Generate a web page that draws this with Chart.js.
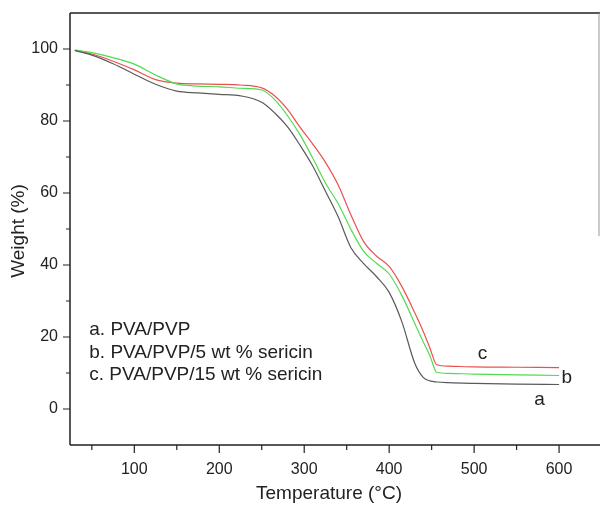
<!DOCTYPE html>
<html>
<head>
<meta charset="utf-8">
<script src="https://cdn.jsdelivr.net/npm/chart.js@4.4.0/dist/chart.umd.min.js"></script>
<style>
  html, body { margin: 0; padding: 0; background: #fff; }
  #wrap { width: 600px; height: 505px; }
</style>
</head>
<body>
<div id="wrap"><canvas id="tgaChart"></canvas></div>
<script>
// temperature grid (°C) shared by all three curves
const temps = [30, 50, 75, 100, 125, 150, 175, 200, 225, 250, 265, 280, 295, 310, 325, 340, 355, 370, 385, 400, 415, 430, 440, 448, 456, 470, 500, 550, 600];

// weight (%)
const weightA = [99.6, 98.3, 95.9, 93.0, 90.2, 88.3, 87.8, 87.4, 87.0, 85.2, 82.3, 78.5, 73.3, 67.5, 60.5, 53.4, 44.8, 40.4, 36.8, 32.4, 24.2, 12.8, 8.8, 7.8, 7.5, 7.3, 7.1, 6.9, 6.8];
const weightB = [99.7, 99.0, 97.6, 95.8, 92.8, 90.3, 89.7, 89.5, 89.1, 88.6, 86.0, 81.6, 76.2, 69.7, 62.8, 57.0, 49.9, 43.8, 40.5, 37.5, 31.5, 23.8, 18.7, 14.8, 10.2, 9.9, 9.7, 9.5, 9.3];
const weightC = [99.6, 98.6, 96.6, 94.2, 91.5, 90.5, 90.3, 90.2, 90.0, 89.2, 87.0, 83.3, 78.3, 73.6, 68.5, 62.2, 53.9, 46.5, 42.5, 39.6, 34.0, 26.8, 21.6, 16.9, 12.3, 11.9, 11.7, 11.6, 11.5];

const seriesNames = ['a. PVA/PVP', 'b. PVA/PVP/5 wt % sericin', 'c. PVA/PVP/15 wt % sericin'];
const curveTags = ['a', 'b', 'c'];

const xMajor = [100, 200, 300, 400, 500, 600];
const xMinor = [50, 150, 250, 350, 450, 550];
const yMajor = [0, 20, 40, 60, 80, 100];
const yMinor = [10, 30, 50, 70, 90];

const toPoints = (ys) => temps.map((t, i) => ({ x: t, y: ys[i] }));

const FONT = '"Liberation Sans", Arial, sans-serif';

// axes frame, tick marks, curve tags and the text legend
const decorations = {
    id: 'decorations',
    afterDraw(chart) {
        const c = chart.ctx;
        const a = chart.chartArea;
        const xs = chart.scales.x;
        const ys = chart.scales.y;
        c.save();
        c.strokeStyle = '#222';
        c.lineWidth = 1.5;
        c.beginPath();
        c.moveTo(a.left, a.top); c.lineTo(a.left, a.bottom);
        c.moveTo(a.left, a.bottom); c.lineTo(chart.width, a.bottom);
        c.moveTo(a.left, a.top); c.lineTo(chart.width, a.top);
        c.stroke();
        c.strokeStyle = '#999';
        c.lineWidth = 1;
        c.beginPath();
        c.moveTo(a.right, a.top); c.lineTo(a.right, ys.getPixelForValue(48));
        c.stroke();

        c.strokeStyle = '#222';
        c.lineWidth = 1.2;
        c.beginPath();
        xMajor.forEach(v => { const p = xs.getPixelForValue(v); c.moveTo(p, a.bottom); c.lineTo(p, a.bottom + 8); });
        xMinor.forEach(v => { const p = xs.getPixelForValue(v); c.moveTo(p, a.bottom); c.lineTo(p, a.bottom + 5); });
        yMajor.forEach(v => { const p = ys.getPixelForValue(v); c.moveTo(a.left, p); c.lineTo(a.left - 7, p); });
        yMinor.forEach(v => { const p = ys.getPixelForValue(v); c.moveTo(a.left, p); c.lineTo(a.left - 4, p); });
        c.stroke();

        c.fillStyle = '#222';
        c.font = '19px ' + FONT;
        c.textBaseline = 'middle';
        c.textAlign = 'left';
        const legendRows = [22, 15.6, 9.5];
        seriesNames.forEach((n, i) => {
            c.fillText(n, xs.getPixelForValue(47), ys.getPixelForValue(legendRows[i]));
        });
        const tagPos = [[577, 2.6], [609, 8.7], [510, 15.4]];
        curveTags.forEach((t, i) => {
            c.textAlign = 'center';
            c.fillText(t, xs.getPixelForValue(tagPos[i][0]), ys.getPixelForValue(tagPos[i][1]));
        });

        // axis titles
        c.textAlign = 'center';
        c.fillText('Temperature (\u00B0C)', 329, 494);
        c.translate(19, 231);
        c.rotate(-Math.PI / 2);
        c.fillText('Weight (%)', 0, 0);
        c.restore();
    }
};

const ctx = document.getElementById('tgaChart').getContext('2d');
const tgaChart = new Chart(ctx, {
    type: 'line',
    data: {
        datasets: [
            { label: seriesNames[0], data: toPoints(weightA), borderColor: 'rgba(90, 90, 90, 1)' },
            { label: seriesNames[1], data: toPoints(weightB), borderColor: 'rgba(80, 220, 80, 1)' },
            { label: seriesNames[2], data: toPoints(weightC), borderColor: 'rgba(235, 80, 80, 1)' }
        ]
    },
    options: {
        responsive: true,
        maintainAspectRatio: false,
        animation: false,
        layout: {
            padding: { top: 13, right: 1, left: 0, bottom: 0 }
        },
        datasets: {
            line: {
                borderWidth: 1.2,
                pointRadius: 0,
                fill: false,
                cubicInterpolationMode: 'monotone'
            }
        },
        plugins: {
            legend: { display: false },
            tooltip: { enabled: false },
            title: { display: false }
        },
        scales: {
            x: {
                type: 'linear',
                min: 24.3,
                max: 647,
                afterFit: (s) => { s.height = 60; s.paddingLeft = 0; s.paddingRight = 0; },
                afterBuildTicks: (s) => { s.ticks = xMajor.map(v => ({ value: v })); },
                grid: { display: false },
                border: { display: false },
                ticks: {
                    padding: 7,
                    color: '#222',
                    font: { size: 16, family: FONT }
                }
            },
            y: {
                type: 'linear',
                min: -10,
                max: 110,
                afterFit: (s) => { s.width = 70; s.paddingTop = 0; s.paddingBottom = 0; },
                afterBuildTicks: (s) => { s.ticks = yMajor.map(v => ({ value: v })); },
                grid: { display: false },
                border: { display: false },
                ticks: {
                    padding: 4,
                    color: '#222',
                    font: { size: 16, family: FONT }
                }
            }
        }
    },
    plugins: [decorations]
});
</script>
</body>
</html>
